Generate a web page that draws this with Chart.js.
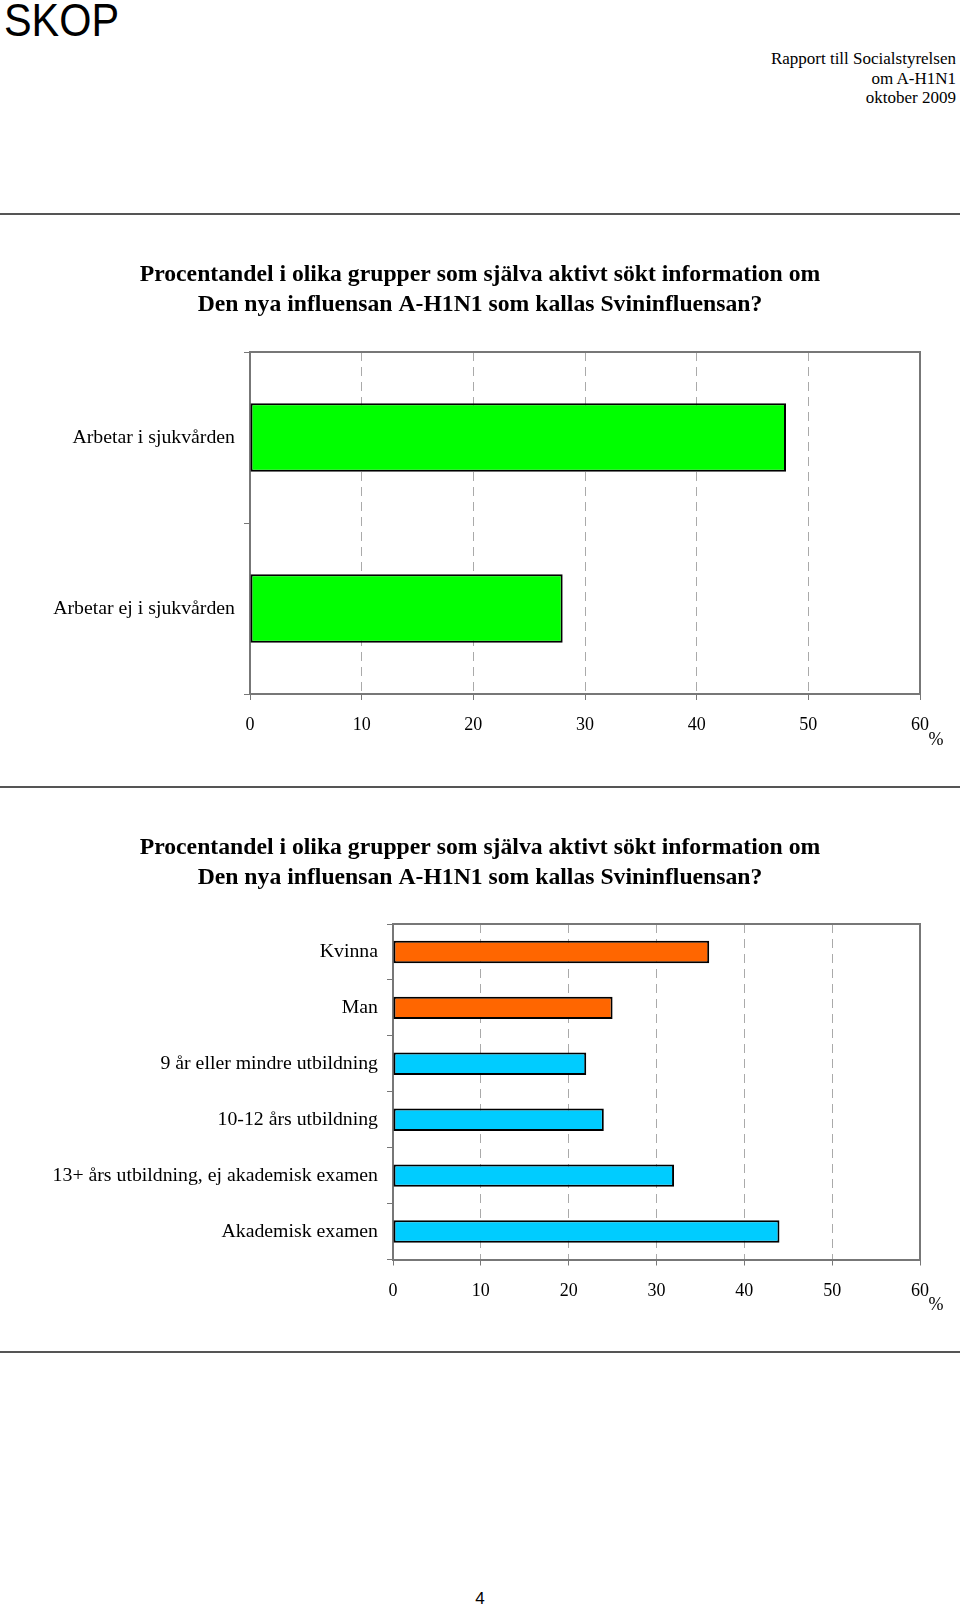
<!DOCTYPE html>
<html lang="sv">
<head>
<meta charset="utf-8">
<title>Sökt information om A-H1N1</title>
<script src="https://cdn.jsdelivr.net/npm/chart.js@4.4.0/dist/chart.umd.min.js"></script>
<style>
  body { margin: 0; background: #fff; }
  .page { position: relative; width: 960px; height: 1609px; overflow: hidden; }
  .logo { position: absolute; left: 4px; top: -7px; font: 46px "Liberation Sans", Arial, sans-serif;
          transform: scaleX(0.9); transform-origin: left top; }
  .header { position: absolute; right: 4px; top: 49px; text-align: right;
            font: 17px/19.5px "Liberation Serif", "Times New Roman", serif; }
  .rule { position: absolute; left: 0; width: 960px; height: 2px; background: #555; }
  .pagenr { position: absolute; left: 0; width: 960px; top: 1589px; text-align: center;
            font: 17px "Liberation Sans", Arial, sans-serif; }
  canvas { position: absolute; left: 0; }
</style>
</head>
<body>
<div class="page">
  <div class="logo">SKOP</div>
  <div class="header">Rapport till Socialstyrelsen<br>om A-H1N1<br>oktober 2009</div>
  <div class="rule" style="top:213px"></div>
  <div class="rule" style="top:786px"></div>
  <div class="rule" style="top:1351px"></div>
  <canvas id="chartWork" width="960" height="500" style="top:250px"></canvas>
  <canvas id="chartGroups" width="960" height="515" style="top:805px"></canvas>
  <div class="pagenr">4</div>
</div>
<script>
// data
const titleLines = [
  "Procentandel i olika grupper som själva aktivt sökt information om",
  "Den nya influensan A-H1N1 som kallas Svininfluensan?",
];
const workLabels = ["Arbetar i sjukvården", "Arbetar ej i sjukvården"];
const workValues = [48, 28];
const groupLabels = [
  "Kvinna",
  "Man",
  "9 år eller mindre utbildning",
  "10-12 års utbildning",
  "13+ års utbildning, ej akademisk examen",
  "Akademisk examen",
];
const groupValues = [36, 25, 22, 24, 32, 44];
const groupKind = ["kön", "kön", "utb", "utb", "utb", "utb"];
const xTicks = [0, 10, 20, 30, 40, 50, 60];

const serif = "'Liberation Serif', 'Times New Roman', serif";
const axisGray = "#777";

// ram runt plotytan + "%" vid x-axeln
const framePlugin = {
  id: "frame",
  afterDatasetsDraw(chart) {
    const { ctx, chartArea: a } = chart;
    ctx.save();
    ctx.strokeStyle = axisGray;
    ctx.lineWidth = 2;
    ctx.beginPath();
    ctx.moveTo(a.left, a.top);
    ctx.lineTo(a.right, a.top);
    ctx.lineTo(a.right, a.bottom);
    ctx.stroke();
    ctx.fillStyle = "#000";
    ctx.font = "18px " + serif;
    ctx.textAlign = "center";
    ctx.textBaseline = "middle";
    ctx.fillText("%", a.right + 16, a.bottom + 46);
    ctx.restore();
  },
};

const makeChart = (id, labels, values, colors, opts) => {
  return new Chart(document.getElementById(id), {
    type: "bar",
    data: {
      labels: labels,
      datasets: [
        {
          data: values,
          backgroundColor: colors,
          borderColor: "#000",
          borderWidth: 2,
          borderSkipped: false,
          barPercentage: 0.4,
          categoryPercentage: 1,
        },
      ],
    },
    options: {
      indexAxis: "y",
      responsive: false,
      animation: false,
      // vänster/höger lika så att titeln centreras på sidan
      layout: { padding: { left: 40, right: 40, top: 0, bottom: 0 } },
      plugins: {
        legend: { display: false },
        tooltip: { enabled: false },
        title: {
          display: true,
          text: titleLines,
          color: "#000",
          font: { family: serif, size: 23.7, weight: "bold", lineHeight: 29.5 / 23.7 },
          padding: { top: opts.titleTop, bottom: opts.titleBottom },
        },
      },
      scales: {
        x: {
          min: 0,
          max: 60,
          afterBuildTicks: scale => {
            scale.ticks = xTicks.map(v => ({ value: v }));
          },
          afterFit: scale => {
            scale.height = opts.xHeight;
          },
          grid: {
            color: "#aaa",
            lineWidth: 1,
            tickColor: axisGray,
            tickLength: 6,
          },
          border: { color: axisGray, width: 2, dash: [9, 6] },
          ticks: { color: "#000", font: { family: serif, size: 18 }, padding: opts.xPad },
        },
        y: {
          afterFit: scale => {
            scale.width = opts.yWidth;
          },
          grid: {
            drawOnChartArea: false,
            color: axisGray,
            tickLength: 6,
          },
          border: { color: axisGray, width: 2 },
          ticks: { color: "#000", font: { family: serif, size: 19.8 }, padding: 9 },
        },
      },
    },
    plugins: [framePlugin],
  });
};

makeChart("chartWork", workLabels, workValues, workLabels.map(() => "#00ff00"), {
  titleTop: 10.25,
  titleBottom: 32.75,
  xHeight: 56,
  xPad: 14,
  yWidth: 210,
});

makeChart(
  "chartGroups",
  groupLabels,
  groupValues,
  groupKind.map(k => (k === "kön" ? "#ff6600" : "#00ccff")),
  { titleTop: 28.25, titleBottom: 31.75, xHeight: 60.5, xPad: 15, yWidth: 353 }
);
</script>
</body>
</html>
